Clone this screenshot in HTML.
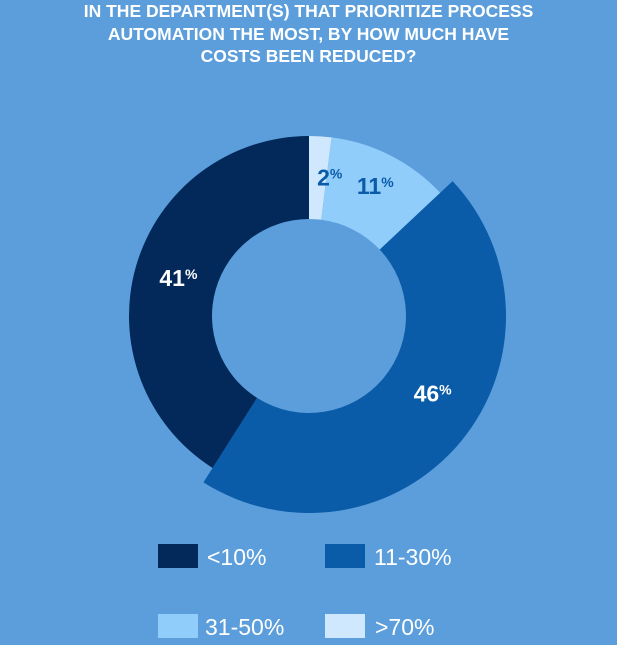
<!DOCTYPE html>
<html><head><meta charset="utf-8"><style>
html,body{margin:0;padding:0;}
body{width:617px;height:645px;background:#5b9edb;overflow:hidden;position:relative;font-family:"Liberation Sans",sans-serif;}
#title{position:absolute;left:0;top:0px;width:617px;text-align:center;color:#fff;font-weight:bold;font-size:17.5px;line-height:22.5px;}
.sw{position:absolute;width:40px;height:24px;}
.lt{position:absolute;color:#fff;font-size:23px;line-height:24px;white-space:nowrap;}
</style></head><body>
<div id="title">IN THE DEPARTMENT(S) THAT PRIORITIZE PROCESS<br>AUTOMATION THE MOST, BY HOW MUCH HAVE<br>COSTS BEEN REDUCED?</div>
<svg id="chart" width="617" height="645" style="position:absolute;left:0;top:0"></svg>
<div>
<div class="sw" style="left:158px;top:544px;background:#03295a"></div>
<div class="lt" style="left:207px;top:545px">&lt;10%</div>
<div class="sw" style="left:325px;top:544px;background:#0a5ba8"></div>
<div class="lt" style="left:374px;top:545px">11-30%</div>
<div class="sw" style="left:158px;top:614px;background:#91cdfb"></div>
<div class="lt" style="left:205px;top:615px">31-50%</div>
<div class="sw" style="left:325px;top:614px;background:#d0e8fd"></div>
<div class="lt" style="left:375px;top:615px">&gt;70%</div>
</div>
<script>
const categories=[">70%","31-50%","11-30%","<10%"];
const values=[2,11,46,41];
const labels=["2","11","46","41"];
const colors=["#d0e8fd","#91cdfb","#0a5ba8","#03295a"];
const labelColors=["#0a5ba8","#0a5ba8","#fff","#fff"];
const svg=document.getElementById('chart');
const NS="http://www.w3.org/2000/svg";
const cx=309,cy=316,rIn=97;
const rOut=[180,180,197,180];
const labelR=[139,146,146,136];
const labelDx=[12,0,0,0];
const total=values.reduce((a,b)=>a+b,0);
function pt(a,r){return [cx+r*Math.sin(a),cy-r*Math.cos(a)];}
let acc=0;
const pending=[];
values.forEach((v,i)=>{
  const a0=acc/total*2*Math.PI;acc+=v;const a1=acc/total*2*Math.PI;
  const R=rOut[i];const large=(a1-a0)>Math.PI?1:0;
  const p0=pt(a0,R),p1=pt(a1,R),q1=pt(a1,rIn),q0=pt(a0,rIn);
  const p=document.createElementNS(NS,'path');
  p.setAttribute('d',`M${p0}A${R},${R} 0 ${large} 1 ${p1}L${q1}A${rIn},${rIn} 0 ${large} 0 ${q0}Z`);
  p.setAttribute('fill',colors[i]);
  
  
  svg.appendChild(p);
  let am=(a0+a1)/2;
  if(i===2) am-=0.13;
  const c=pt(am,labelR[i]);
  const t=document.createElementNS(NS,'text');
  t.setAttribute('x',c[0]+labelDx[i]);t.setAttribute('y',c[1]+8);
  t.setAttribute('text-anchor','middle');
  t.setAttribute('fill',labelColors[i]);
  t.setAttribute('font-family','Liberation Sans, sans-serif');
  t.setAttribute('font-weight','bold');
  t.setAttribute('font-size','23');
  
  
  t.innerHTML=labels[i]+'<tspan font-size="14" dy="-7">%</tspan>';
  pending.push(t);
});
pending.forEach(t=>svg.appendChild(t));
</script>
</body></html>
